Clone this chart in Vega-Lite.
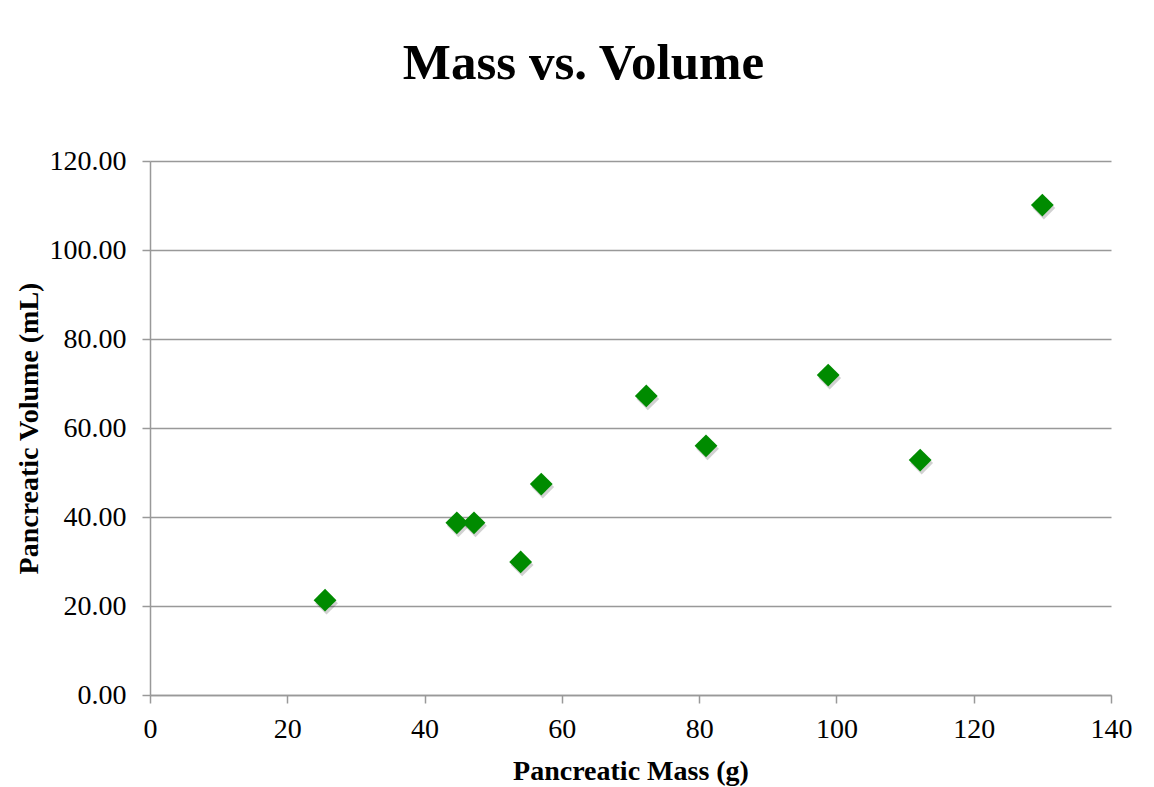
{
  "$schema": "https://vega.github.io/schema/vega-lite/v6.json",
  "width": 961,
  "height": 534,
  "autosize": {"type": "none"},
  "padding": {"left": 150, "top": 161, "right": 43, "bottom": 92},
  "background": "white",
  "title": {
    "text": "Mass vs. Volume",
    "font": "Liberation Serif",
    "fontSize": 51,
    "fontWeight": "bold",
    "color": "black",
    "anchor": "middle",
    "baseline": "alphabetic",
    "offset": 17,
    "dx": -47
  },
  "config": {
    "view": {"stroke": null},
    "axis": {
      "labelFont": "Liberation Serif",
      "labelFontSize": 28,
      "labelColor": "black",
      "titleFont": "Liberation Serif",
      "titleFontSize": 28,
      "titleFontWeight": "bold",
      "titleColor": "black",
      "domainColor": "#999999",
      "domainWidth": 1.5,
      "tickColor": "#999999",
      "tickWidth": 1.5,
      "tickSize": 8,
      "gridColor": "#999999",
      "gridWidth": 1.5
    }
  },
  "data": {
    "values": [
      {"mass": 25.5, "volume": 21.3},
      {"mass": 44.7, "volume": 38.7},
      {"mass": 47.2, "volume": 38.7},
      {"mass": 54.0, "volume": 29.9},
      {"mass": 57.0, "volume": 47.4},
      {"mass": 72.3, "volume": 67.2},
      {"mass": 81.0, "volume": 56.0},
      {"mass": 98.8, "volume": 71.9},
      {"mass": 112.2, "volume": 52.8},
      {"mass": 130.0, "volume": 110.1}
    ]
  },
  "encoding": {
    "x": {
      "field": "mass",
      "type": "quantitative",
      "title": "Pancreatic Mass (g)",
      "scale": {"domain": [0, 140], "nice": false, "zero": true},
      "axis": {
        "values": [0, 20, 40, 60, 80, 100, 120, 140],
        "grid": false,
        "labelPadding": 12,
        "titlePadding": 14,
        "labelFlush": false
      }
    },
    "y": {
      "field": "volume",
      "type": "quantitative",
      "title": "Pancreatic Volume (mL)",
      "scale": {"domain": [0, 120], "nice": false},
      "axis": {
        "values": [0, 20, 40, 60, 80, 100, 120],
        "format": ".2f",
        "grid": true,
        "labelPadding": 16,
        "titlePadding": 6,
        "labelFlush": false
      }
    }
  },
  "layer": [
    {
      "mark": {
        "type": "point",
        "shape": "diamond",
        "filled": true,
        "size": 520,
        "color": "#000000",
        "opacity": 0.18,
        "xOffset": 1.5,
        "yOffset": 3
      }
    },
    {
      "mark": {
        "type": "point",
        "shape": "diamond",
        "filled": true,
        "size": 520,
        "color": "#008b00",
        "opacity": 1
      }
    }
  ]
}
